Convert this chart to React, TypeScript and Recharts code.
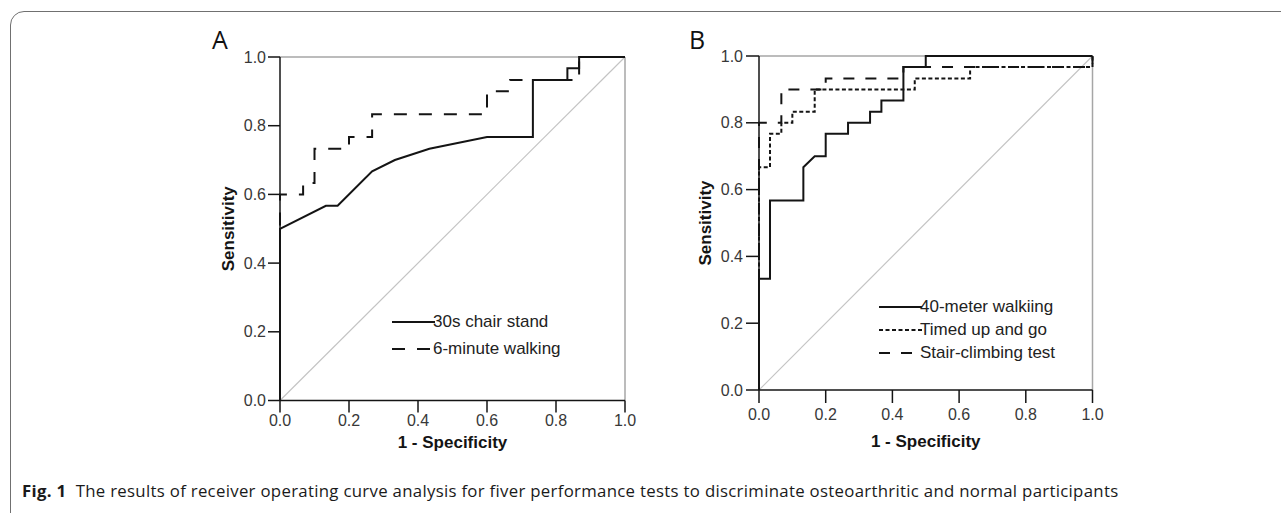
import { LineChart, Line, XAxis, YAxis, ReferenceLine } from "recharts";

// panel A: 30s chair stand / 6-minute walking
const chairStandFpr = [0, 0, 0.133, 0.167, 0.267, 0.333, 0.433, 0.6, 0.733, 0.733, 0.833, 0.833, 0.867, 0.867, 1];
const chairStandTpr = [0, 0.5, 0.567, 0.567, 0.667, 0.7, 0.733, 0.767, 0.767, 0.933, 0.933, 0.967, 0.967, 1, 1];

const sixMinuteFpr = [0, 0, 0.067, 0.067, 0.1, 0.1, 0.2, 0.2, 0.267, 0.267, 0.6, 0.6, 0.667, 0.667, 0.867, 0.867, 1];
const sixMinuteTpr = [0, 0.6, 0.6, 0.633, 0.633, 0.733, 0.733, 0.767, 0.767, 0.833, 0.833, 0.9, 0.9, 0.933, 0.933, 1, 1];

// panel B: 40-meter walking / timed up and go / stair-climbing
const walkingFpr = [0, 0, 0.033, 0.033, 0.133, 0.133, 0.167, 0.2, 0.2, 0.267, 0.267, 0.333, 0.333, 0.367, 0.367, 0.433, 0.433, 0.5, 0.5, 1];
const walkingTpr = [0, 0.333, 0.333, 0.567, 0.567, 0.667, 0.7, 0.7, 0.767, 0.767, 0.8, 0.8, 0.833, 0.833, 0.867, 0.867, 0.967, 0.967, 1, 1];

const tugFpr = [0, 0, 0.033, 0.033, 0.067, 0.067, 0.1, 0.1, 0.167, 0.167, 0.467, 0.467, 0.633, 0.633, 1, 1];
const tugTpr = [0, 0.667, 0.667, 0.767, 0.767, 0.8, 0.8, 0.833, 0.833, 0.9, 0.9, 0.933, 0.933, 0.967, 0.967, 1];

const stairFpr = [0, 0, 0.067, 0.067, 0.2, 0.2, 0.433, 0.433, 1, 1];
const stairTpr = [0, 0.8, 0.8, 0.9, 0.9, 0.933, 0.933, 0.967, 0.967, 1];

const axisTicks = [0, 0.2, 0.4, 0.6, 0.8, 1];

const toPoints = (fpr: number[], tpr: number[]) => fpr.map((x, i) => ({ x, y: tpr[i] }));

const AXIS_FONT = "'Liberation Sans', Arial, sans-serif";
const INK = "#141414";

type Series = { name: string; points: { x: number; y: number }[]; dash?: string };

const panelA: Series[] = [
  { name: "30s chair stand", points: toPoints(chairStandFpr, chairStandTpr) },
  { name: "6-minute walking", points: toPoints(sixMinuteFpr, sixMinuteTpr), dash: "13 12" },
];

const panelB: Series[] = [
  { name: "40-meter walkiing", points: toPoints(walkingFpr, walkingTpr) },
  { name: "Timed up and go", points: toPoints(tugFpr, tugTpr), dash: "4 2.5" },
  { name: "Stair-climbing test", points: toPoints(stairFpr, stairTpr), dash: "11 11" },
];

interface PanelProps {
  series: Series[];
  left: number;
  margin: { top: number; right: number; left: number; bottom: number };
  tickSize: number;
  xTickMargin: number;
  yTickMargin: number;
  yLabelDx: number;
  xLabelDy: number;
}

function RocPanel({ series, left, margin, tickSize, xTickMargin, yTickMargin, yLabelDx, xLabelDy }: PanelProps) {
  const tick = { fontSize: 16, fill: "#383838", fontFamily: AXIS_FONT };
  return (
    <div style={{ position: "absolute", left, top: 20 }}>
      <LineChart width={500} height={460} margin={margin}>
        <XAxis
          type="number"
          dataKey="x"
          domain={[0, 1]}
          ticks={axisTicks}
          tickFormatter={(v: number) => v.toFixed(1)}
          tick={tick}
          tickSize={tickSize}
          tickMargin={xTickMargin}
          height={60}
          axisLine={{ stroke: INK, strokeWidth: 1.5 }}
          tickLine={{ stroke: INK, strokeWidth: 1.5 }}
          label={{
            value: "1 - Specificity",
            position: "center",
            dy: xLabelDy,
            style: { fontSize: 17, fontWeight: 700, fill: INK, fontFamily: AXIS_FONT },
          }}
        />
        <YAxis
          type="number"
          dataKey="y"
          domain={[0, 1]}
          ticks={axisTicks}
          tickFormatter={(v: number) => v.toFixed(1)}
          tick={tick}
          tickSize={tickSize}
          tickMargin={yTickMargin}
          width={60}
          axisLine={{ stroke: INK, strokeWidth: 1.5 }}
          tickLine={{ stroke: INK, strokeWidth: 1.5 }}
          label={{
            value: "Sensitivity",
            angle: -90,
            position: "center",
            dx: yLabelDx,
            style: { fontSize: 17, fontWeight: 700, fill: INK, fontFamily: AXIS_FONT, textAnchor: "middle" },
          }}
        />
        <ReferenceLine y={1} stroke="#a6a6a6" strokeWidth={1.5} />
        <ReferenceLine x={1} stroke="#a6a6a6" strokeWidth={1.5} />
        <ReferenceLine segment={[{ x: 0, y: 0 }, { x: 1, y: 1 }]} stroke="#c4c4c4" strokeWidth={1.2} />
        {series.map((s) => (
          <Line
            key={s.name}
            data={s.points}
            dataKey="y"
            name={s.name}
            type="linear"
            stroke={INK}
            strokeWidth={2}
            strokeDasharray={s.dash}
            dot={false}
            activeDot={false}
            isAnimationActive={false}
          />
        ))}
      </LineChart>
    </div>
  );
}

function LegendBox({ series, left, top, rowHeight }: { series: Series[]; left: number; top: number; rowHeight: number }) {
  return (
    <div style={{ position: "absolute", left, top, fontFamily: AXIS_FONT, fontSize: 17, color: "#222" }}>
      {series.map((s) => (
        <div key={s.name} style={{ display: "flex", alignItems: "center", height: rowHeight }}>
          <svg width={43} height={6}>
            <line x1={0} y1={3} x2={43} y2={3} stroke={INK} strokeWidth={2} strokeDasharray={s.dash} />
          </svg>
          <span style={{ marginLeft: -2, whiteSpace: "nowrap" }}>{s.name}</span>
        </div>
      ))}
    </div>
  );
}

export default function App() {
  const letter = { position: "absolute" as const, top: 22, fontSize: 25, fontFamily: "'Open Sans', sans-serif", color: "#111" };
  return (
    <div style={{ position: "absolute", left: 0, top: 0, width: 1281, height: 513, overflow: "hidden", background: "#fff" }}>
      <div
        style={{
          position: "absolute",
          left: 10,
          top: 11,
          width: 1320,
          height: 600,
          border: "1.5px solid #707070",
          borderRadius: 14,
        }}
      />
      <div style={{ ...letter, left: 212 }}>A</div>
      <div style={{ ...letter, left: 689 }}>B</div>

      <RocPanel
        series={panelA}
        left={150}
        margin={{ top: 37, right: 25, left: 70, bottom: 19.5 }}
        tickSize={12}
        xTickMargin={2}
        yTickMargin={2}
        yLabelDx={-22}
        xLabelDy={11}
      />
      <RocPanel
        series={panelB}
        left={630}
        margin={{ top: 36, right: 37.5, left: 69, bottom: 30 }}
        tickSize={13}
        xTickMargin={6}
        yTickMargin={3}
        yLabelDx={-24}
        xLabelDy={21}
      />
      <LegendBox series={panelA} left={392} top={309} rowHeight={26.5} />
      <LegendBox series={panelB} left={879} top={295} rowHeight={23.3} />

      <div
        style={{
          position: "absolute",
          left: 22,
          top: 479,
          fontFamily: "'Open Sans', sans-serif",
          fontSize: 16.8,
          letterSpacing: 0.3,
          color: "#1a1a1a",
          whiteSpace: "nowrap",
        }}
      >
        <b>Fig. 1</b>&nbsp;&nbsp;The results of receiver operating curve analysis for fiver performance tests to discriminate
        osteoarthritic and normal participants
      </div>
    </div>
  );
}
